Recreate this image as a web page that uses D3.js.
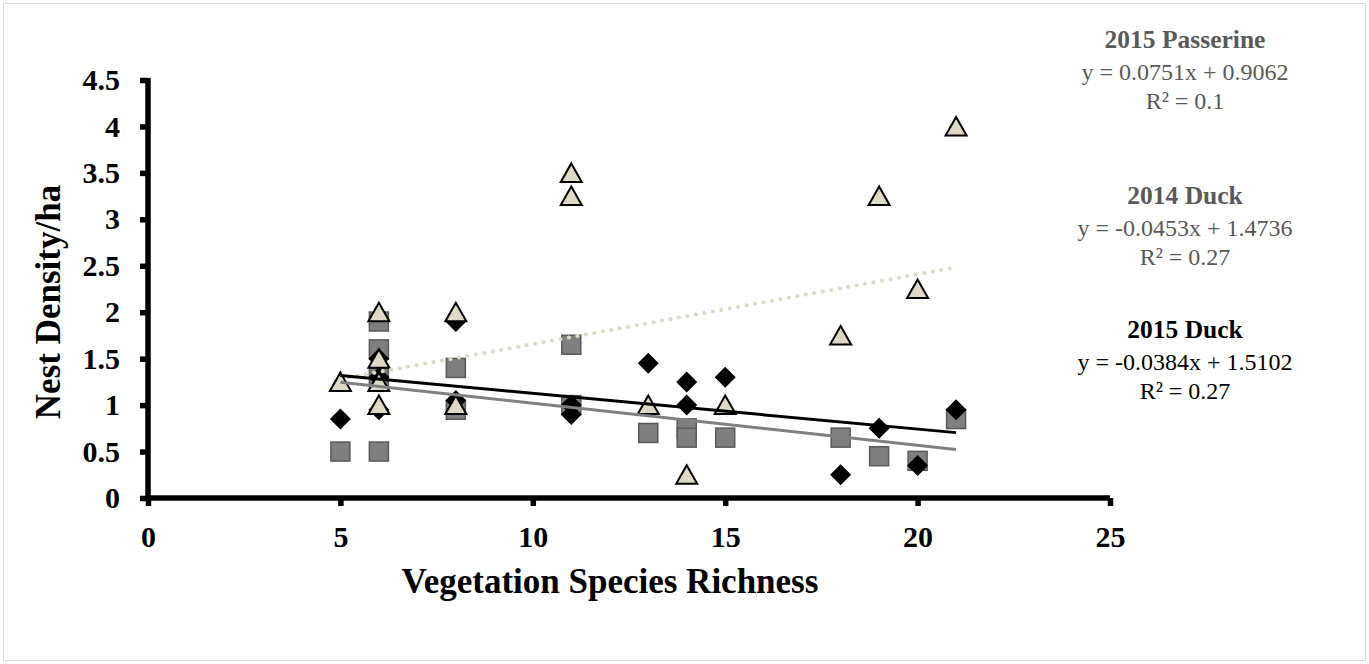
<!DOCTYPE html>
<html>
<head>
<meta charset="utf-8">
<script src="https://cdn.jsdelivr.net/npm/d3@7/dist/d3.min.js"></script>
<style>
  body { margin: 0; background: #fff; }
  svg text { font-family: "Liberation Serif", "Times New Roman", serif; }
</style>
</head>
<body>
<script>
// data
var duck2015X = [5, 6, 6, 6, 8, 8, 11, 11, 13, 14, 14, 15, 18, 19, 20, 21];
var duck2015Y = [0.85, 1.5, 1.3, 0.95, 1.9, 1.05, 1.0, 0.9, 1.45, 1.25, 1.0, 1.3, 0.25, 0.75, 0.35, 0.95];

var duck2014X = [5, 6, 6, 6, 6, 8, 8, 11, 11, 13, 14, 14, 15, 18, 19, 20, 21];
var duck2014Y = [0.5, 1.9, 1.6, 1.3, 0.5, 1.4, 0.95, 1.65, 1.0, 0.7, 0.75, 0.65, 0.65, 0.65, 0.45, 0.4, 0.85];

var passX = [5, 6, 6, 6, 6, 8, 8, 11, 11, 13, 14, 15, 18, 19, 20, 21];
var passY = [1.25, 2.0, 1.5, 1.25, 1.0, 2.0, 1.0, 3.5, 3.25, 1.0, 0.25, 1.0, 1.75, 3.25, 2.25, 4.0];

// trendlines as printed on the chart
var trendNames = ["2015 Passerine", "2014 Duck", "2015 Duck"];
var trendSlope = [0.0751, -0.0453, -0.0384];
var trendIntercept = [0.9062, 1.4736, 1.5102];
var trendR2 = ["0.1", "0.27", "0.27"];
var trendXRange = [5, 21];

var xTicks = [0, 5, 10, 15, 20, 25];
var yTicks = [0, 0.5, 1, 1.5, 2, 2.5, 3, 3.5, 4, 4.5];

var width = 1369, height = 664;

var svg = d3.select("body").append("svg").attr("width", width).attr("height", height);

// chart border
svg.append("rect")
    .attr("x", 3.5).attr("y", 3.5)
    .attr("width", 1362).attr("height", 657)
    .attr("fill", "#fff").attr("stroke", "#d9d9d9").attr("stroke-width", 1);

var x = d3.scaleLinear().domain([0, 25]).range([148, 1110]);
var y = d3.scaleLinear().domain([0, 4.5]).range([498, 80]);

function zip(xs, ys) { return xs.map(function(v, i) { return {x: v, y: ys[i]}; }); }

var plot = svg.append("g");

// 2014 duck squares
plot.selectAll(".sq").data(zip(duck2014X, duck2014Y)).enter().append("rect")
    .attr("class", "sq")
    .attr("x", function(d) { return x(d.x) - 9.5; })
    .attr("y", function(d) { return y(d.y) - 9.5; })
    .attr("width", 19).attr("height", 19)
    .attr("fill", "#7f7f7f").attr("stroke", "#595959").attr("stroke-width", 1.5);

// 2015 duck diamonds
plot.selectAll(".dm").data(zip(duck2015X, duck2015Y)).enter().append("path")
    .attr("class", "dm")
    .attr("transform", function(d) { return "translate(" + x(d.x) + "," + y(d.y) + ")"; })
    .attr("d", "M0,-10.5L10.5,0L0,10.5L-10.5,0Z")
    .attr("fill", "#000");

// 2015 passerine triangles
plot.selectAll(".tr").data(zip(passX, passY)).enter().append("path")
    .attr("class", "tr")
    .attr("transform", function(d) { return "translate(" + x(d.x) + "," + y(d.y) + ")"; })
    .attr("d", "M0,-9.5L10.5,9L-10.5,9Z")
    .attr("fill", "#ddd9c4").attr("stroke", "#000").attr("stroke-width", 2)
    .attr("stroke-linejoin", "miter");

// trendlines
var line = d3.line().x(function(d) { return x(d[0]); }).y(function(d) { return y(d[1]); });
var trendStyles = [
  {stroke: "#ddd9c4", width: 4, dash: "0.1 8.5", cap: "round"},
  {stroke: "#808080", width: 3, dash: null, cap: "butt"},
  {stroke: "#000", width: 3, dash: null, cap: "butt"}
];
trendNames.forEach(function(n, i) {
  var pts = trendXRange.map(function(v) { return [v, trendIntercept[i] + trendSlope[i] * v]; });
  plot.append("path")
      .attr("d", line(pts))
      .attr("fill", "none")
      .attr("stroke", trendStyles[i].stroke)
      .attr("stroke-width", trendStyles[i].width)
      .attr("stroke-dasharray", trendStyles[i].dash)
      .attr("stroke-linecap", trendStyles[i].cap);
});

// axes
var xAxis = d3.axisBottom(x).tickValues(xTicks).tickSize(8).tickSizeOuter(0).tickPadding(20)
    .tickFormat(d3.format("d"));
var yAxis = d3.axisLeft(y).tickValues(yTicks).tickSize(8).tickSizeOuter(0).tickPadding(20)
    .tickFormat(function(d) { return d; });

var gx = svg.append("g").attr("transform", "translate(0," + 498 + ")").call(xAxis);
var gy = svg.append("g").attr("transform", "translate(" + 148 + ",0)").call(yAxis);

[gx, gy].forEach(function(g) {
  g.select(".domain").attr("stroke", "#000").attr("stroke-width", 5.5);
  g.selectAll(".tick line").attr("stroke", "#000").attr("stroke-width", 5.5);
  g.selectAll(".tick text")
      .attr("fill", "#000")
      .style("font-family", "'Liberation Serif', 'Times New Roman', serif")
      .style("font-weight", "bold")
      .style("font-size", "30px");
});
gy.select(".domain").attr("d", "M0," + (y(4.5) - 2) + "V" + (y(0) + 2.5));
gx.select(".domain").attr("d", "M" + (x(0) - 2.5) + ",0H" + x(25));

// axis titles
svg.append("text")
    .attr("x", 610).attr("y", 593)
    .attr("text-anchor", "middle")
    .style("font-weight", "bold").style("font-size", "35px")
    .text("Vegetation Species Richness");

svg.append("text")
    .attr("transform", "translate(60,302) rotate(-90)")
    .attr("text-anchor", "middle")
    .style("font-weight", "bold").style("font-size", "35px")
    .text("Nest Density/ha");

// trendline labels
var labelBase = [48, 204, 338];
var labelColor = ["#595959", "#595959", "#000"];
trendNames.forEach(function(n, i) {
  var g = svg.append("g").attr("transform", "translate(1185," + labelBase[i] + ")")
      .attr("fill", labelColor[i]).attr("text-anchor", "middle");
  g.append("text")
      .style("font-weight", "bold").style("font-size", "25.5px")
      .text(n);
  var sign = trendIntercept[i] < 0 ? " - " : " + ";
  g.append("text").attr("y", 32)
      .style("font-size", "24px")
      .text("y = " + trendSlope[i] + "x" + sign + trendIntercept[i].toFixed(4));
  g.append("text").attr("y", 61)
      .style("font-size", "24px")
      .text("R\u00b2 = " + trendR2[i]);
});
</script>
</body>
</html>
